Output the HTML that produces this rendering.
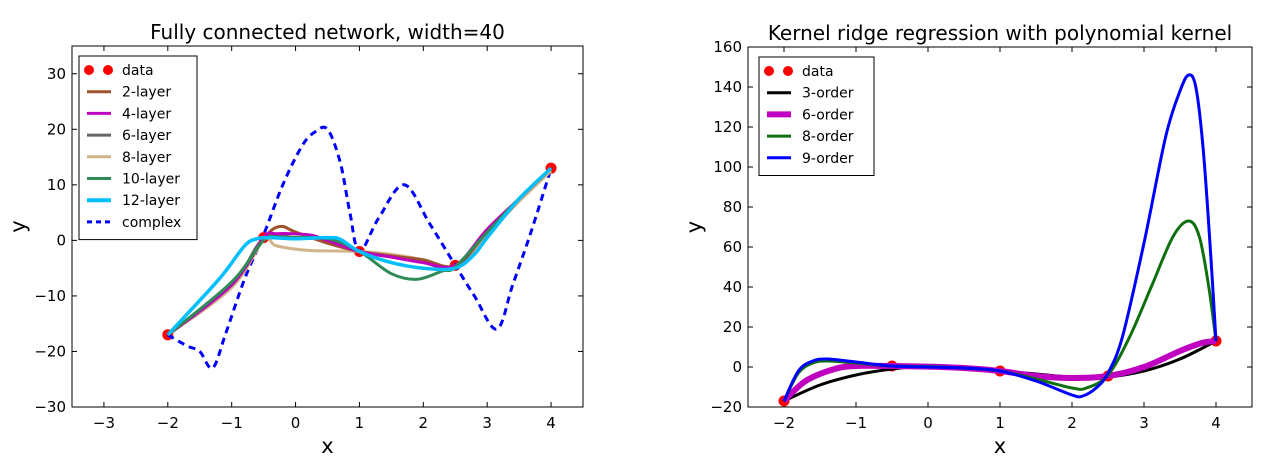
<!DOCTYPE html>
<html><head><meta charset="utf-8"><style>
html,body{margin:0;padding:0;background:#fff;}
svg{display:block;font-family:"DejaVu Sans","Liberation Sans",sans-serif;}
</style></head><body>
<svg id="fig" width="1280" height="465" viewBox="0 0 1280 465"></svg>
<script>
// ---------- data ----------
const dataX = [-2, -0.5, 1, 2.5, 4];
const dataY = [-17, 0.5, -2, -4.5, 13];

const complexX = [-2,-1.7,-1.5,-1.3,-1.1,-0.8,-0.5,-0.2,0.1,0.3,0.5,0.7,0.85,1,1.3,1.7,2.1,2.5,2.8,3.15,3.4,3.7,4];
const complexY = [-17,-19,-20,-23,-17,-7,1,10,17,19.5,20,14,5,-2,4,10,3,-4.5,-10,-16,-8,2,13];

const l2X = [-2,-1,-0.5,-0.25,0,0.5,1,1.5,2,2.5,3,3.5,4];
const l2Y = [-17,-8,0.3,2.5,1.5,-0.5,-2,-2.8,-3.5,-4.5,1.5,7.5,13];
const l4X = [-2,-1,-0.5,-0.3,0.2,0.5,1,1.5,2,2.5,3,3.5,4];
const l4Y = [-17,-8,0.5,1.2,1.0,0,-2,-3,-4,-4.5,2,7.5,13];
const l6X = [-2,-1,-0.5,0,0.5,1,1.5,2,2.5,3,3.5,4];
const l6Y = [-17,-8,0.3,0.5,0,-2,-3,-4,-4.8,1.5,7.5,13];
const l8X = [-2,-1,-0.5,-0.3,0.2,1,1.5,2,2.5,3,3.5,4];
const l8Y = [-17,-8.5,0,-1,-1.8,-2,-2.5,-3.5,-5,1,7,12.5];
const l10X = [-2,-1,-0.5,-0.2,0.5,1,1.5,1.9,2.3,2.5,3,3.5,4];
const l10Y = [-17,-7.5,0,0.5,0.3,-2,-6,-7,-5.5,-4.8,1.5,7.5,13];
const l12X = [-2,-1.2,-0.8,-0.6,-0.4,0,0.5,0.7,1,1.5,2,2.5,2.8,3,3.5,4];
const l12Y = [-17,-7,-1,0.3,0.5,0.3,0.5,0.2,-2,-4,-5,-5,-2.5,0.5,7.5,13];

const o3X = [-2,-1.5,-1,-0.5,0,0.5,1,1.5,2,2.5,3,3.5,4];
const o3Y = [-17,-9,-4,-1,0.5,0,-2,-3.5,-5,-5,-2,4,13];
const o6X = [-2,-1.7,-1.3,-1,-0.5,0,0.5,1,1.5,2,2.5,3,3.5,3.8,4];
const o6Y = [-17,-7,-1,0.5,0.5,0.2,-0.5,-2,-4.5,-5.5,-4.5,0,8,12,13];
const o8X = [-2,-1.8,-1.6,-1.4,-1,-0.5,0,0.5,1,1.5,2,2.2,2.5,2.8,3.1,3.4,3.62,3.77,3.9,4];
const o8Y = [-17,-3,2,3,2,0.5,0.2,-0.5,-2,-6,-10.5,-10.5,-4,15,40,65,73,65,40,13];
const o9X = [-2,-1.8,-1.6,-1.4,-1,-0.5,0,0.5,1,1.5,2,2.15,2.35,2.5,2.7,3,3.3,3.5,3.62,3.72,3.82,3.92,4];
const o9Y = [-17,-2,3,4,2.5,0.5,0,-0.5,-2,-7,-14,-14.5,-10,-3,15,62,115,138,146,140,110,60,13];

const leftXTicks = [-3,-2,-1,0,1,2,3,4];
const leftYTicks = [-30,-20,-10,0,10,20,30];
const rightXTicks = [-2,-1,0,1,2,3,4];
const rightYTicks = [-20,0,20,40,60,80,100,120,140,160];

// ---------- helpers ----------
const NS = "http://www.w3.org/2000/svg";
const svg = document.getElementById('fig');
function mk(tag, attrs, parent){
  const e = document.createElementNS(NS, tag);
  for (const k in attrs) e.setAttribute(k, attrs[k]);
  (parent||svg).appendChild(e);
  return e;
}
function fmt(v){ return v<0 ? '\u2212'+Math.abs(v) : String(v); }
function smooth(pts){
  let d = 'M'+pts[0][0].toFixed(1)+','+pts[0][1].toFixed(1);
  for (let i=0;i<pts.length-1;i++){
    const p0=pts[Math.max(i-1,0)], p1=pts[i], p2=pts[i+1], p3=pts[Math.min(i+2,pts.length-1)];
    const t=6;
    const c1=[p1[0]+(p2[0]-p0[0])/t, p1[1]+(p2[1]-p0[1])/t];
    const c2=[p2[0]-(p3[0]-p1[0])/t, p2[1]-(p3[1]-p1[1])/t];
    d+=' C'+c1[0].toFixed(1)+','+c1[1].toFixed(1)+' '+c2[0].toFixed(1)+','+c2[1].toFixed(1)+' '+p2[0].toFixed(1)+','+p2[1].toFixed(1);
  }
  return d;
}

function makeAxes(cfg){
  const {L,R,T,B,xmin,xmax,ymin,ymax} = cfg;
  const sx = v => L + (v-xmin)/(xmax-xmin)*(R-L);
  const sy = v => B - (v-ymin)/(ymax-ymin)*(B-T);
  const g = mk('g', {});
  
  
  const t = mk('text', {x:(L+R)/2, y:T-7, 'text-anchor':'middle', 'font-size':20, fill:'#000'}, g);
  t.textContent = cfg.title;
  
  
  cfg.xticks.forEach(v=>{
    const x=sx(v);
    mk('line',{x1:x,x2:x,y1:B,y2:B-5,stroke:'#000','stroke-width':1},g);
    mk('line',{x1:x,x2:x,y1:T,y2:T+5,stroke:'#000','stroke-width':1},g);
    const tx = mk('text',{x:x,y:B+21,'text-anchor':'middle','font-size':15,fill:'#000'},g);
    tx.textContent = fmt(v);
    
    
  });
  cfg.yticks.forEach(v=>{
    const y=sy(v);
    mk('line',{x1:L,x2:L+5,y1:y,y2:y,stroke:'#000','stroke-width':1},g);
    mk('line',{x1:R,x2:R-5,y1:y,y2:y,stroke:'#000','stroke-width':1},g);
    const ty = mk('text',{x:L-6,y:y+5,'text-anchor':'end','font-size':15,fill:'#000'},g);
    ty.textContent = fmt(v);
    
    
  });
  const xl = mk('text',{x:(L+R)/2,y:B+46,'text-anchor':'middle','font-size':21,fill:'#000'},g);
  xl.textContent='x';
  
  
  const yl = mk('text',{x:0,y:0,'text-anchor':'middle','font-size':21,fill:'#000',transform:'translate('+(L-47)+','+((T+B)/2)+') rotate(-90)'},g);
  yl.textContent='y';
  
  
  const clipId = cfg.name+'-clip';
  const cp = mk('clipPath',{id:clipId},g);
  mk('rect',{x:L,y:T,width:R-L,height:B-T},cp);
  const plot = mk('g',{'clip-path':'url(#'+clipId+')'},g);
  return {sx,sy,g,plot,L,R,T,B};
}
function series(ax, xs, ys, color, width, name, dash){
  const pts = xs.map((x,i)=>[ax.sx(x), ax.sy(ys[i])]);
  const attrs = {d:smooth(pts), fill:'none', stroke:color, 'stroke-width':width, 'stroke-linejoin':'round'};
  if (dash) attrs['stroke-dasharray']=dash;
  const p = mk('path', attrs, ax.plot);
  
  
}
function dots(ax){
  dataX.forEach((x,i)=>{
    const c = mk('circle',{cx:ax.sx(x), cy:ax.sy(dataY[i]), r:5.5, fill:'#ff0000'}, ax.plot);
    
    
  });
}
function frame(ax){
  mk('rect',{x:ax.L,y:ax.T,width:ax.R-ax.L,height:ax.B-ax.T,fill:'none',stroke:'#000','stroke-width':1},ax.g);
}
function legend(ax, x, y, w, entries){
  const lg = mk('g',{},ax.g);
  
  
  const h = entries.length*21.7+10;
  mk('rect',{x:x,y:y,width:w,height:h,fill:'#fff',stroke:'#000','stroke-width':1},lg);
  entries.forEach((e,i)=>{
    const cy = y+14+i*21.7;
    const eg = mk('g',{},lg);
    
    
    if (e.dot){
      mk('circle',{cx:x+10,cy:cy,r:5,fill:'#ff0000'},eg);
      mk('circle',{cx:x+29,cy:cy,r:5,fill:'#ff0000'},eg);
    } else {
      const a={x1:x+8,x2:x+32,y1:cy,y2:cy,stroke:e.color,'stroke-width':e.w};
      if (e.dash) a['stroke-dasharray']=e.dash;
      mk('line',a,eg);
    }
    const t = mk('text',{x:x+43,y:cy+5,'font-size':14,fill:'#000'},eg);
    t.textContent = e.label;
  });
}

// ---------- left chart ----------
const A = makeAxes({name:'left-chart', title:'Fully connected network, width=40', L:72,R:583,T:46,B:407,xmin:-3.5,xmax:4.5,ymin:-30,ymax:35, xticks:leftXTicks, yticks:leftYTicks});
dots(A);
series(A, complexX, complexY, '#0000ff', 3, 'complex-line', '7,5');
series(A, l8X, l8Y, '#d2b48c', 3, 'layer8-line');
series(A, l6X, l6Y, '#666666', 3, 'layer6-line');
series(A, l2X, l2Y, '#a0522d', 3, 'layer2-line');
series(A, l4X, l4Y, '#c000c0', 3, 'layer4-line');
series(A, l10X, l10Y, '#2e8b57', 3, 'layer10-line');
series(A, l12X, l12Y, '#00bfff', 3.5, 'layer12-line');
frame(A);
legend(A, 79, 56, 118, [
  {dot:true,label:'data'},
  {color:'#a0522d',w:3,label:'2-layer'},
  {color:'#c000c0',w:3,label:'4-layer'},
  {color:'#666666',w:3,label:'6-layer'},
  {color:'#d2b48c',w:3,label:'8-layer'},
  {color:'#2e8b57',w:3,label:'10-layer'},
  {color:'#00bfff',w:4,label:'12-layer'},
  {color:'#0000ff',w:3,label:'complex',dash:'5,4'}
]);

// ---------- right chart ----------
const B2 = makeAxes({name:'right-chart', title:'Kernel ridge regression with polynomial kernel', L:748,R:1252,T:47,B:407,xmin:-2.5,xmax:4.5,ymin:-20,ymax:160, xticks:rightXTicks, yticks:rightYTicks});
dots(B2);
series(B2, o3X, o3Y, '#000000', 3, 'order3-line');
series(B2, o6X, o6Y, '#c000c0', 6, 'order6-line');
series(B2, o8X, o8Y, '#107010', 3, 'order8-line');
series(B2, o9X, o9Y, '#0000ff', 3, 'order9-line');
frame(B2);
legend(B2, 759, 57, 115, [
  {dot:true,label:'data'},
  {color:'#000000',w:3,label:'3-order'},
  {color:'#c000c0',w:6,label:'6-order'},
  {color:'#107010',w:3,label:'8-order'},
  {color:'#0000ff',w:3,label:'9-order'}
]);
</script>
</body></html>
